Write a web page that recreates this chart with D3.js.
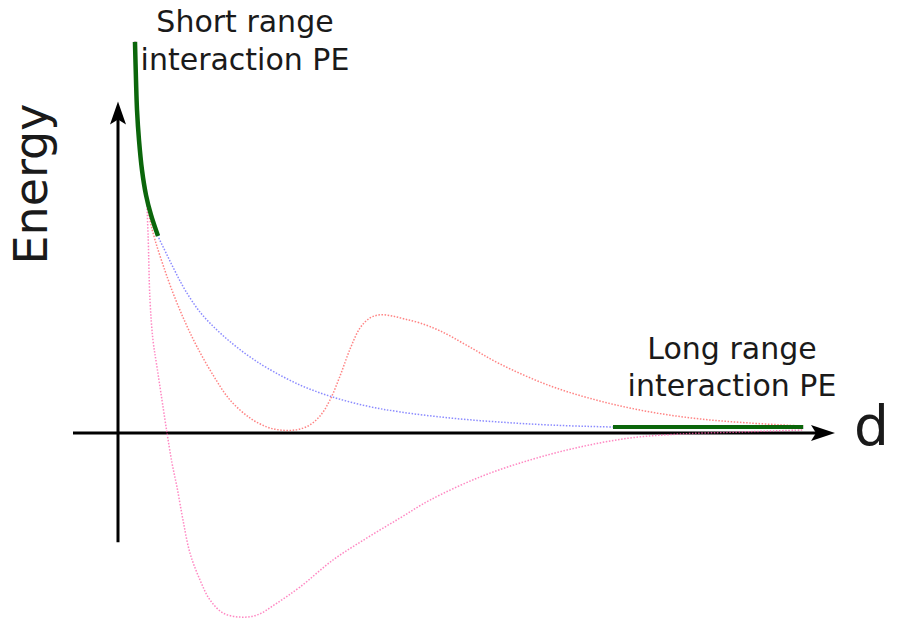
<!DOCTYPE html>
<html>
<head>
<meta charset="utf-8">
<script src="https://cdn.jsdelivr.net/npm/d3@7"></script>
<style>
  html, body { margin: 0; padding: 0; background: #fff; }
  svg { display: block; }
  text { font-family: "DejaVu Sans", Verdana, sans-serif; fill: #1a1a1a; }
</style>
</head>
<body>
<svg id="chart" width="901" height="618"></svg>
<script>
// ---- data (d = separation, E = energy, arbitrary units) ----
const shortRangeD = [0.283, 0.300, 0.317, 0.350, 0.400, 0.467, 0.550, 0.667];
const shortRangeE = [10.03, 9.05, 8.28, 7.51, 6.74, 6.10, 5.59, 5.05];

const longRangeD = [8.25, 11.42];
const longRangeE = [0.154, 0.154];

const blueD = [0.283, 0.300, 0.317, 0.350, 0.400, 0.467, 0.550, 0.667, 0.800, 0.950, 1.117, 1.367, 1.650, 1.917, 2.200, 2.483, 3.033, 3.583, 4.150, 4.700, 5.533, 6.367, 7.200, 8.250, 9.700, 11.42];
const blueE = [10.03, 9.05, 8.28, 7.51, 6.74, 6.10, 5.59, 5.05, 4.62, 4.15, 3.67, 3.10, 2.64, 2.28, 1.95, 1.67, 1.23, 0.92, 0.69, 0.54, 0.385, 0.28, 0.205, 0.154, 0.128, 0.128];

const redD = [0.283, 0.300, 0.317, 0.350, 0.400, 0.467, 0.533, 0.617, 0.750, 0.917, 1.117, 1.317, 1.583, 1.867, 2.200, 2.483, 2.700, 2.950, 3.167, 3.367, 3.533, 3.700, 3.867, 4.033, 4.200, 4.367, 4.567, 4.783, 5.033, 5.367, 5.800, 6.367, 7.200, 8.033, 8.867, 9.700, 10.53, 11.42];
const redE = [10.03, 9.05, 8.28, 7.51, 6.74, 6.10, 5.46, 4.95, 4.31, 3.59, 2.85, 2.21, 1.49, 0.846, 0.385, 0.154, 0.077, 0.077, 0.179, 0.436, 0.846, 1.46, 2.15, 2.69, 2.95, 3.03, 3.00, 2.92, 2.82, 2.62, 2.26, 1.77, 1.21, 0.82, 0.54, 0.36, 0.256, 0.179];

const pinkD = [0.283, 0.300, 0.317, 0.350, 0.400, 0.467, 0.500, 0.533, 0.583, 0.650, 0.733, 0.817, 0.900, 0.983, 1.083, 1.200, 1.367, 1.533, 1.750, 2.033, 2.317, 2.650, 3.033, 3.583, 4.150, 4.700, 5.200, 6.033, 6.867, 7.700, 8.533, 9.367, 10.37, 11.42];
const pinkE = [10.03, 9.05, 8.28, 7.51, 6.74, 6.10, 5.13, 3.41, 2.385, 1.69, 0.846, 0.0, -0.77, -1.385, -2.23, -3.08, -3.77, -4.28, -4.615, -4.72, -4.667, -4.36, -3.95, -3.256, -2.69, -2.18, -1.72, -1.128, -0.692, -0.359, -0.128, -0.026, 0.026, 0.077];

// axis extents
const xAxisExtent = [-0.75, 11.95];
const yAxisExtent = [-2.8, 8.5];

const labels = {
  shortRange: ["Short range", "interaction PE"],
  longRange: ["Long range", "interaction PE"],
  yTitle: "Energy",
  xTitle: "d"
};

// ---- scales ----
const x = d3.scaleLinear().domain([0, 12]).range([118, 838]);
const y = d3.scaleLinear().domain([0, 10]).range([433, 43]);

const svg = d3.select("#chart");

const zip = (xs, ys) => xs.map((v, i) => [v, ys[i]]);
const line = d3.line().x(d => x(d[0])).y(d => y(d[1])).curve(d3.curveCatmullRom.alpha(0.5));

// ---- axes ----
const axisG = svg.append("g");
axisG.append("line")
  .attr("x1", x(xAxisExtent[0])).attr("x2", x(xAxisExtent[1]) - 6)
  .attr("y1", y(0)).attr("y2", y(0))
  .attr("stroke", "#000").attr("stroke-width", 3);
{
  const tx = x(xAxisExtent[1]), ty = y(0);
  axisG.append("path")
    .attr("d", `M${tx},${ty} L${tx - 24},${ty - 8} L${tx - 19},${ty} L${tx - 24},${ty + 8} Z`)
    .attr("fill", "#000");
}
axisG.append("line")
  .attr("x1", x(0)).attr("x2", x(0))
  .attr("y1", y(yAxisExtent[0])).attr("y2", y(yAxisExtent[1]) + 6)
  .attr("stroke", "#000").attr("stroke-width", 3);
{
  const tx = x(0), ty = y(yAxisExtent[1]);
  axisG.append("path")
    .attr("d", `M${tx},${ty} L${tx - 8},${ty + 23} L${tx},${ty + 18} L${tx + 8},${ty + 23} Z`)
    .attr("fill", "#000");
}

// ---- dotted curves ----
const curves = [
  { data: zip(pinkD, pinkE), color: "#ff5fae" },
  { data: zip(redD, redE), color: "#ff5a5a" },
  { data: zip(blueD, blueE), color: "#6464ff" }
];
svg.append("g").selectAll("path").data(curves).join("path")
  .attr("d", c => line(c.data))
  .attr("fill", "none")
  .attr("stroke", c => c.color)
  .attr("stroke-opacity", 0.75)
  .attr("stroke-width", 1.5)
  .attr("stroke-dasharray", "1.5,1.6");

// ---- green highlighted ranges ----
svg.append("path")
  .attr("d", line(zip(shortRangeD, shortRangeE)))
  .attr("fill", "none").attr("stroke", "#0b660b").attr("stroke-width", 4.5);
svg.append("path")
  .attr("d", d3.line().x(d => x(d[0])).y(d => y(d[1]))(zip(longRangeD, longRangeE)))
  .attr("fill", "none").attr("stroke", "#0b660b").attr("stroke-width", 4);

// ---- labels ----
const t1 = svg.append("text").attr("text-anchor", "middle").attr("font-size", 30);
t1.append("tspan").attr("x", 245).attr("y", 32).text(labels.shortRange[0]);
t1.append("tspan").attr("x", 245).attr("y", 70).text(labels.shortRange[1]);

const t2 = svg.append("text").attr("text-anchor", "middle").attr("font-size", 30);
t2.append("tspan").attr("x", 732).attr("y", 359).text(labels.longRange[0]);
t2.append("tspan").attr("x", 732).attr("y", 396).text(labels.longRange[1]);

svg.append("text")
  .attr("transform", "translate(47,184) rotate(-90)")
  .attr("text-anchor", "middle")
  .attr("font-size", 46)
  .text(labels.yTitle);

svg.append("text")
  .attr("x", 854).attr("y", 445)
  .attr("font-size", 55)
  .text(labels.xTitle);
</script>
</body>
</html>
